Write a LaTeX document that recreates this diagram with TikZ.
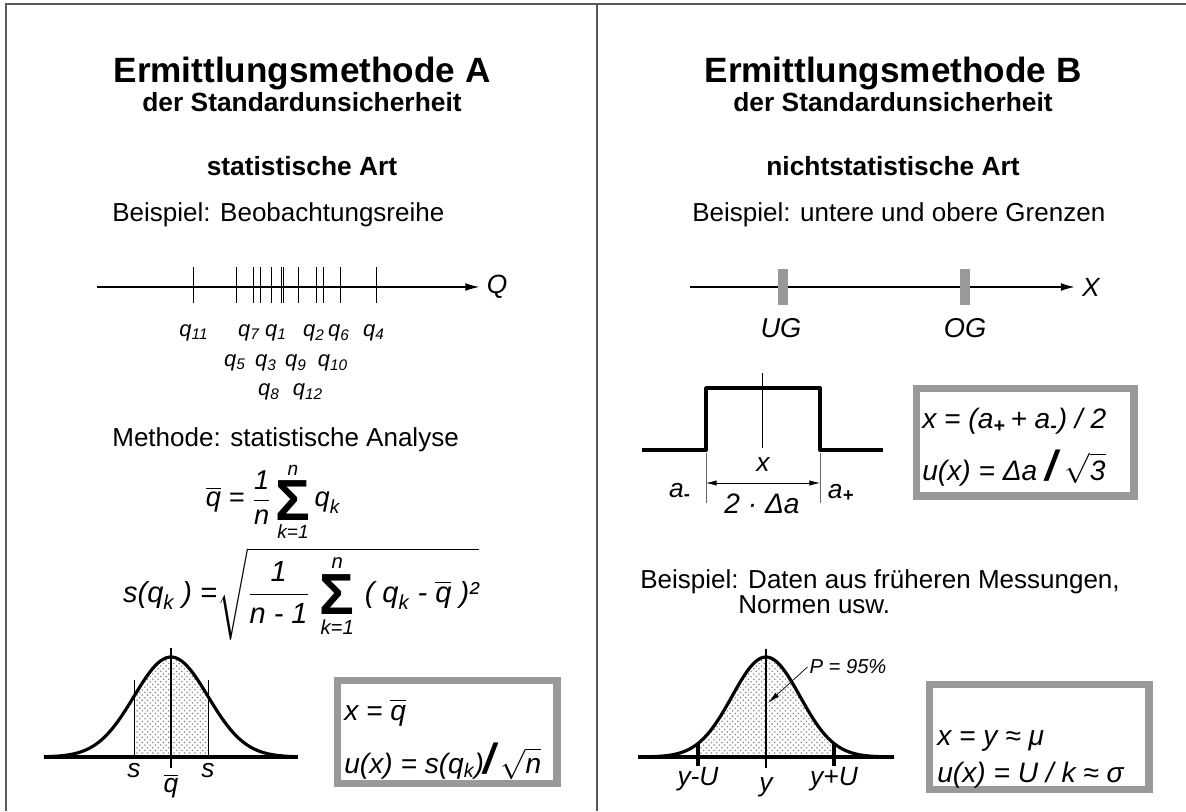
\documentclass[tikz,border=0pt]{standalone}
\usepackage{amsmath}
\usepackage{fontspec}
\setmainfont{Liberation Sans}
\usetikzlibrary{arrows.meta,patterns,positioning}

\newcommand{\sv}[1]{\textit{#1}}
\newcommand{\bigsum}{\mathop{\vcenter{\hbox{\fontsize{33}{33}\selectfont\bfseries Σ}}}\limits}
\newcommand{\fatslash}{{\fontsize{24}{24}\selectfont\bfseries /}}

\begin{document}
\begin{tikzpicture}[
    x=0.02cm, y=-0.02cm,
    >={Latex[length=8pt,width=4.5pt]},
    frame/.style={draw=black!65, line width=0.9pt},
    heading/.style={font=\fontsize{20}{24}\selectfont\bfseries, anchor=base},
    subheading/.style={font=\fontsize{15}{18}\selectfont\bfseries, anchor=base},
    textline/.style={font=\fontsize{14.8}{18}\selectfont, anchor=base west, inner sep=0pt},
    varlabel/.style={font=\fontsize{15}{18}\selectfont\itshape, inner sep=1pt},
    obslabel/.style={font=\fontsize{12.5}{15}\selectfont\itshape, inner sep=1pt},
    formula/.style={font=\fontsize{15.5}{18}\selectfont, inner sep=0pt},
    resultbox/.style={draw=black!40, line width=4pt, inner sep=0pt},
    boxtext/.style={font=\fontsize{16}{19}\selectfont\itshape, anchor=base west, inner sep=0pt},
    axisline/.style={line width=0.8pt},
    datatick/.style={line width=0.5pt},
    limitbar/.style={fill=black!40, draw=none, inner sep=0pt, minimum width=0.19cm, minimum height=0.74cm},
    curve/.style={line width=1.8pt, line join=round},
    centreline/.style={line width=1.1pt},
    thinline/.style={line width=0.4pt},
    dots/.style={pattern=crosshatch dots, pattern color=black!45}
]
\useasboundingbox (0,0) rectangle (1186,811);

% Frame
\draw[frame] (1186,4) -- (6,4) -- (6,811);
\draw[frame] (597,4) -- (597,811);

% Left column: method A
\node[heading] (titleA) at (302,83) {Ermittlungsmethode A};
\node[subheading] (subA) at (302,112) {der Standardunsicherheit};
\node[subheading] (artA) at (302,175) {statistische Art};
\node[textline] (bspA) at (112,221) {Beispiel: Beobachtungsreihe};

% Observation axis
\coordinate (qstart) at (97,287);
\node[varlabel, inner sep=4pt] (qaxis) at (497,287) {Q};
\draw[axisline,->] (qstart) -- (qaxis.west);
\foreach \t in {193,236,253,260,271,281,283,298,316,323,340,376}
    \draw[datatick] (\t,267) -- (\t,303);

\node[obslabel] (q11) at (194,333) {q\textsubscript{11}};
\node[obslabel] (q7) at (249,333) {q\textsubscript{7}};
\node[obslabel] (q1) at (276,333) {q\textsubscript{1}};
\node[obslabel] (q2) at (314,333) {q\textsubscript{2}};
\node[obslabel] (q6) at (339,333) {q\textsubscript{6}};
\node[obslabel] (q4) at (374,333) {q\textsubscript{4}};
\node[obslabel] (q5) at (235,363) {q\textsubscript{5}};
\node[obslabel] (q3) at (266,363) {q\textsubscript{3}};
\node[obslabel] (q9) at (296,363) {q\textsubscript{9}};
\node[obslabel] (q10) at (333,363) {q\textsubscript{10}};
\node[obslabel] (q8) at (269,392) {q\textsubscript{8}};
\node[obslabel] (q12) at (308,392) {q\textsubscript{12}};

\node[textline] (methA) at (112,446) {Methode: statistische Analyse};

% Formulas
\node[formula] (mean) at (273,502) {$\overline{\sv{q}}\sv{ = }\dfrac{\sv{1}}{\sv{n}}\bigsum_{\sv{k=1}}^{\sv{n}}\sv{q}_{\sv{k}}$};
\node[formula, font=\fontsize{16.5}{19}\selectfont] (stdev) at (301,594) {$\sv{s(q}_{\sv{k}}\sv{ ) =}\sqrt{\dfrac{\sv{1}}{\sv{n - 1}}\,\bigsum_{\sv{k=1}}^{\sv{n}}\,\sv{( q}_{\sv{k}}\sv{ - }\overline{\sv{q}}\sv{ )²}}$};

% Normal distribution, left
\fill[dots] (134,757) -- plot[domain=134:208, samples=40] (\x, {757-100*exp(-((\x-171)/37)^2/2)}) -- (208,757) -- cycle;
\draw[thinline] (134,757) -- (134,680);
\draw[thinline] (208,757) -- (208,680);
\draw[curve] (44,757) -- (298,757);
\draw[curve] plot[domain=44:298, samples=90] (\x, {757-100*exp(-((\x-171)/37)^2/2)});
\draw[centreline] (171,648) -- (171,768);
\node[varlabel] (sleft) at (134,771) {s};
\node[varlabel] (qbar) at (171,786) {$\overline{\sv{q}}$};
\node[varlabel] (sright) at (208,771) {s};

\node[resultbox, minimum width=4.4cm, minimum height=2.06cm] (boxA) at (447,732) {};
\node[boxtext] (boxA1) at (344,720) {$\sv{x = }\overline{\sv{q}}$};
\node[boxtext] (boxA2) at (344,773) {u(x) = s(q\textsubscript{k})\fatslash\,$\sqrt{\sv{n}}$};

% Right column: method B
\node[heading] (titleB) at (893,83) {Ermittlungsmethode B};
\node[subheading] (subB) at (893,112) {der Standardunsicherheit};
\node[subheading] (artB) at (893,175) {nichtstatistische Art};
\node[textline] (bspB) at (692,221) {Beispiel: untere und obere Grenzen};

% Limits axis
\coordinate (xstart) at (690,287);
\node[varlabel, inner sep=4pt] (xaxis) at (1091,287) {X};
\draw[axisline,->] (xstart) -- (xaxis.west);
\node[limitbar] (ugbar) at (783,287) {};
\node[limitbar] (ogbar) at (965,287) {};
\node[varlabel, font=\fontsize{15.5}{18}\selectfont\itshape] (ug) at (781,328) {UG};
\node[varlabel, font=\fontsize{15.5}{18}\selectfont\itshape] (og) at (965,328) {OG};

% Rectangular distribution
\draw[thinline] (762,373) -- (762,448);
\draw[curve, line width=2.2pt] (642,450) -- (706,450) -- (706,388) -- (820,388) -- (820,450) -- (883,450);
\draw[thinline, black!60] (706,453) -- (706,503);
\draw[thinline, black!60] (820,453) -- (820,503);
\coordinate (aleft) at (706,483);
\coordinate (aright) at (820,483);
\draw[thinline,<->,>={Latex[length=6pt,width=3pt]}] (aleft) -- (aright);
\node[varlabel] (xmid) at (763,465) {x};
\node[varlabel, font=\fontsize{16}{18}\selectfont\itshape] (width) at (762,504) {2 · Δa};
\node[varlabel] (aminus) at (680,492) {a\textsubscript{\textbf{-}}};
\node[varlabel] (aplus) at (841,493) {a\textsubscript{\textbf{+}}};

\node[resultbox, minimum width=4.36cm, minimum height=2.16cm] (boxB) at (1025,442) {};
\node[boxtext] (boxB1) at (922,428) {x = (a\textsubscript{\textbf{+}}\,+ a\textsubscript{\textbf{-}}) / 2};
\node[boxtext] (boxB2) at (922,480) {u(x) = Δa \fatslash\ $\sqrt{\sv{3}}$};

\node[textline] (bspC) at (640,588) {Beispiel: Daten aus früheren Messungen,};
\node[textline] (normen) at (738,613) {Normen usw.};

% Normal distribution, right
\fill[dots] (698,757) -- plot[domain=698:834, samples=50] (\x, {757-100*exp(-((\x-766)/34)^2/2)}) -- (834,757) -- cycle;
\draw[curve] (638,757) -- (894,757);
\draw[curve] plot[domain=638:894, samples=90] (\x, {757-100*exp(-((\x-766)/34)^2/2)});
\draw[centreline] (766,649) -- (766,768);
\draw[line width=2.2pt] (698,743) -- (698,766);
\draw[line width=2.2pt] (834,743) -- (834,766);
\node[varlabel] (ymu) at (698,779) {y-U};
\node[varlabel] (ycen) at (766,787) {y};
\node[varlabel] (ypu) at (834,779) {y+U};
\node[varlabel, font=\fontsize{11.5}{14}\selectfont\itshape] (plabel) at (848,667) {P = 95\%};
\coordinate (ptarget) at (768,703);
\draw[thinline,->,>={Latex[length=7pt,width=3pt]}] (plabel.west) -- (ptarget);

\node[resultbox, minimum width=4.4cm, minimum height=2.1cm] (boxC) at (1039,737) {};
\node[boxtext] (boxC1) at (937,745) {x = y ≈ μ};
\node[boxtext] (boxC2) at (937,782) {u(x) = U / k ≈ σ};

\end{tikzpicture}
\end{document}
